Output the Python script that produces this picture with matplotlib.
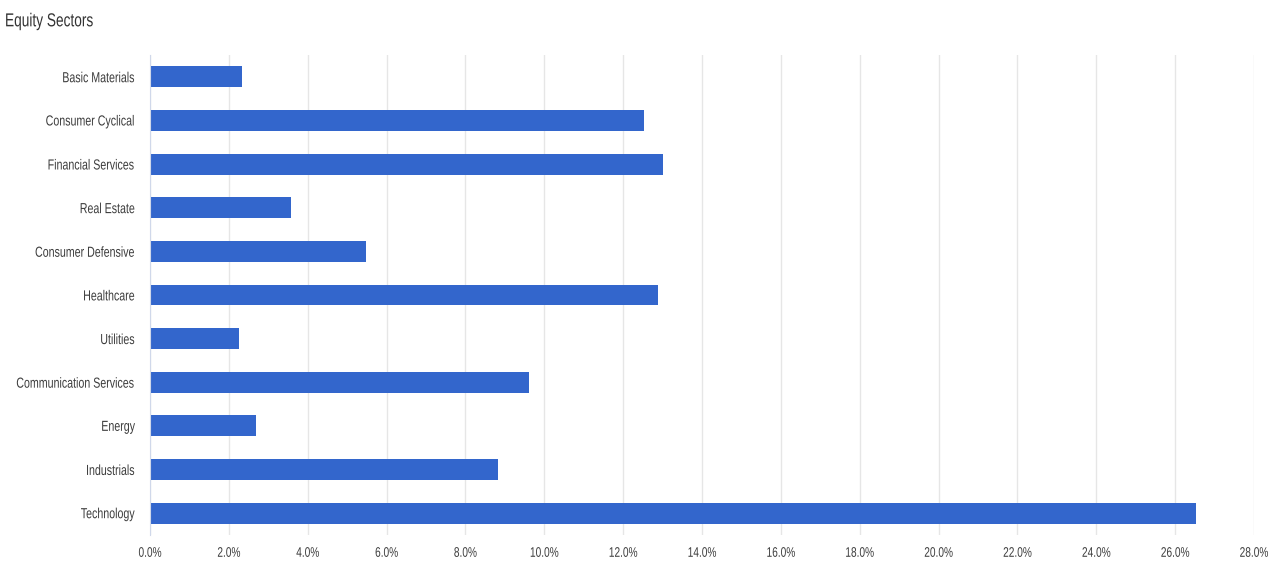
import matplotlib.pyplot as plt
from matplotlib.patheffects import AbstractPathEffect
from matplotlib.transforms import Affine2D
from matplotlib.ticker import FuncFormatter, MultipleLocator

# Sector weights (%), top to bottom as shown
sectors = [
    "Basic Materials", "Consumer Cyclical", "Financial Services", "Real Estate",
    "Consumer Defensive", "Healthcare", "Utilities", "Communication Services",
    "Energy", "Industrials", "Technology",
]
weights = [2.33, 12.54, 13.00, 3.58, 5.48, 12.89, 2.26, 9.62, 2.69, 8.83, 26.52]

bar_color = "#3366cc"
text_color = "#3c3c3c"
squeeze = 0.73  # the reference text is horizontally condensed


class Tall(AbstractPathEffect):
    """Stretch a text vertically about its middle (gives a condensed look)."""

    def __init__(self, sy):
        super().__init__()
        self.sy = sy

    def draw_path(self, renderer, gc, tpath, affine, rgbFace=None):
        ext = tpath.get_extents(affine)
        y0 = (ext.y0 + ext.y1) / 2
        t = affine + Affine2D().translate(0, -y0).scale(1, self.sy).translate(0, y0)
        renderer.draw_path(gc, tpath, t, rgbFace)


plt.rcParams["font.family"] = ["Liberation Sans", "DejaVu Sans"]

fig = plt.figure(figsize=(12.8, 5.84), dpi=100)
ax = fig.add_axes([150 / 1280, 49 / 584, 1104 / 1280, 480 / 584])

ypos = list(range(len(sectors)))
ax.barh(ypos, weights, height=0.48, color=bar_color, zorder=3)
ax.set_yticks(ypos)
ax.set_yticklabels(sectors)
ax.set_ylim(len(sectors) - 0.5, -0.5)
ax.set_xlim(0, 28)
ax.xaxis.set_major_locator(MultipleLocator(2))
ax.xaxis.set_major_formatter(FuncFormatter(lambda v, p: f"{v:.1f}%"))

# light vertical gridlines
ax.grid(axis="x", color="#e6e6e6", linewidth=1, zorder=0)
for s in ["top", "right", "bottom"]:
    ax.spines[s].set_visible(False)
ax.spines["left"].set_color("#d0d8ea")
ax.spines["left"].set_zorder(4)
ax.tick_params(axis="both", length=0, colors=text_color)
ax.tick_params(axis="y", pad=10.5, labelsize=10.5 * squeeze)
ax.tick_params(axis="x", pad=9, labelsize=10 * squeeze)

for lab in ax.get_yticklabels() + ax.get_xticklabels():
    lab.set_path_effects([Tall(1 / squeeze)])

fig.text(5 / 1280, 1 - 21 / 584, "Equity Sectors", fontsize=13.5 * squeeze, color="#333333",
         ha="left", va="center", path_effects=[Tall(1 / squeeze)])

fig.savefig("out.png", dpi=100)
